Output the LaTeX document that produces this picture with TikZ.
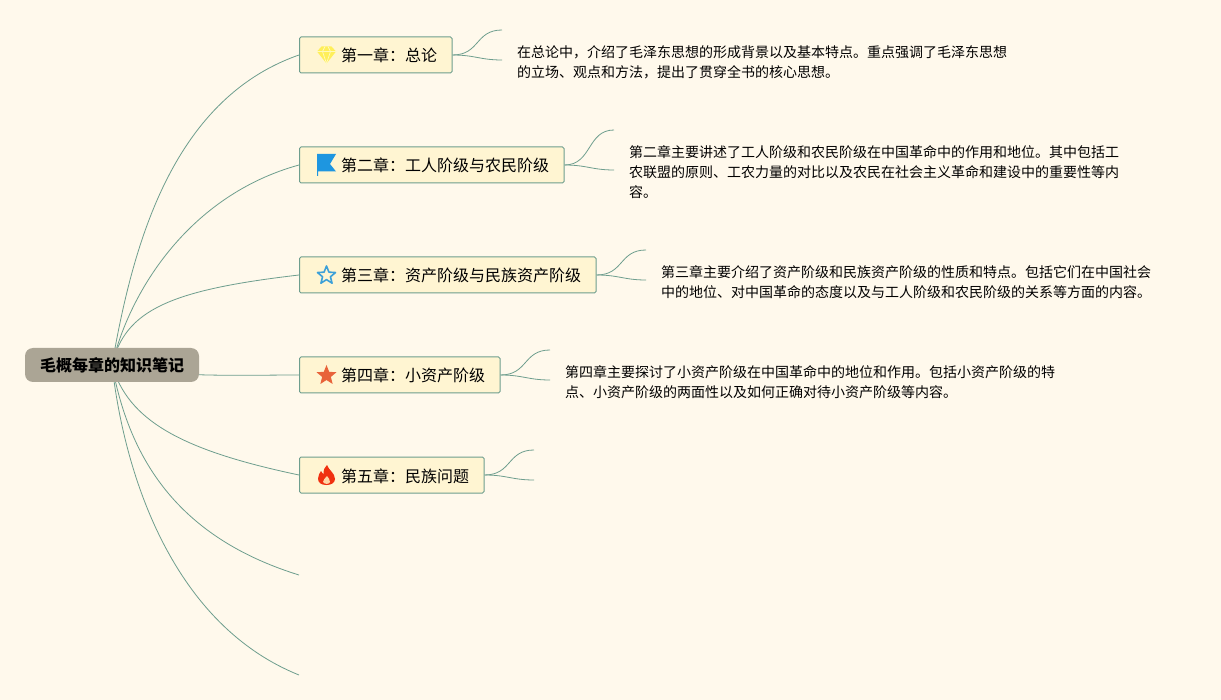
\documentclass[tikz,border=0pt]{standalone}
\usepackage{fontspec}
\setmainfont{Noto Sans CJK SC}
\usetikzlibrary{backgrounds,shapes.geometric}
\definecolor{paper}{HTML}{FFF9EC}
\definecolor{linkgreen}{HTML}{6E9E8E}
\definecolor{boxfill}{HTML}{FFF5D2}
\definecolor{rootfill}{HTML}{ABA595}
\definecolor{flagblue}{HTML}{1E96E0}
\definecolor{flamered}{HTML}{F0300F}
\definecolor{gemyellow}{HTML}{FFEF5A}
\definecolor{starblue}{HTML}{3CA0D8}
\definecolor{starorange}{HTML}{E8633A}
\tikzset{
    gemicon/.pic={
        \fill[gemyellow] (-9.5,-3.5) -- (-5,-8.5) -- (5,-8.5) -- (9.5,-3.5) -- (0,8.5) -- cycle;
        \draw[white!60!gemyellow, line width=0.7pt] (-9.5,-3.5) -- (9.5,-3.5) (-4,-3.5) -- (0,8.5) -- (4,-3.5) (-4,-3.5) -- (-1.5,-8.5) (4,-3.5) -- (1.5,-8.5);
    },
    flagicon/.pic={
        \fill[flagblue] (-9.5,-11) -- (9.5,-11) -- (3.5,-1) -- (9.5,6.5) -- (-8.5,6.5) -- (-8.5,11) -- (-9.5,11) -- cycle;
    },
    flameicon/.pic={
        \fill[flamered] (0.5,-10) .. controls (2,-5) and (8.5,-2) .. (8.5,4) .. controls (8.5,8) and (4.5,10) .. (0,10) .. controls (-5,10) and (-8.5,8) .. (-8.5,3.5) .. controls (-8.5,0) and (-6.5,-2) .. (-5.5,-4) .. controls (-4.5,-2.5) and (-4,-1.5) .. (-3,-1) .. controls (-3,-5) and (-2,-8) .. (0.5,-10) -- cycle;
        \fill[paper!70!orange] (0.5,1) .. controls (1.5,3) and (4,4.5) .. (3.5,7) .. controls (3,9.5) and (-2.5,9.5) .. (-3.5,7) .. controls (-4,5) and (-1,3.5) .. (0.5,1) -- cycle;
    }
}
\begin{document}
\begin{tikzpicture}[
        x=1pt, y=-1pt,
        link/.style={draw=linkgreen, line width=0.8pt},
        chapter/.style={draw=linkgreen, fill=boxfill, line width=1pt, rounded corners=1.5pt, anchor=west, minimum height=36pt, inner xsep=15pt, inner ysep=0pt, text height=15pt, text depth=1pt, font=\fontsize{16}{20}\selectfont},
        mainbox/.style={fill=rootfill, rounded corners=8pt, minimum width=174pt, minimum height=34pt, inner sep=0pt, text height=15pt, text depth=1pt, font=\fontsize{16}{20}\selectfont\bfseries},
        note/.style={anchor=north west, inner sep=0pt, align=left, font=\fontsize{14}{20}\selectfont},
        staricon/.style={star, star points=5, star point ratio=2.3, minimum size=21pt, inner sep=0pt, line join=round}
    ]
        \useasboundingbox (0,0) rectangle (1221,700);

        % Root and the chapter boxes
        \node[mainbox] (root) at (112,365) {毛概每章的知识笔记};
        \node[chapter] (ch1) at (299,55) {\hspace*{26.5pt}第一章：总论};
        \node[chapter] (ch2) at (299,165) {\hspace*{26.5pt}第二章：工人阶级与农民阶级};
        \node[chapter] (ch3) at (299,275) {\hspace*{26.5pt}第三章：资产阶级与民族资产阶级};
        \node[chapter] (ch4) at (299,375) {\hspace*{26.5pt}第四章：小资产阶级};
        \node[chapter] (ch5) at (299,475) {\hspace*{26.5pt}第五章：民族问题};

        % Icons
        \pic at (326.5,55) {gemicon};
        \pic at (326.5,165) {flagicon};
        \node[staricon, draw=starblue, line width=1.6pt, minimum size=19pt] (star3) at (326.5,275.5) {};
        \node[staricon, fill=starorange] (star4) at (326.5,375.5) {};
        \pic at (326.5,475) {flameicon};

        % Notes
        \node[note] (note1) at (517,45) {在总论中，介绍了毛泽东思想的形成背景以及基本特点。重点强调了毛泽东思想\\的立场、观点和方法，提出了贯穿全书的核心思想。};
        \node[note] (note2) at (629,145) {第二章主要讲述了工人阶级和农民阶级在中国革命中的作用和地位。其中包括工\\农联盟的原则、工农力量的对比以及农民在社会主义革命和建设中的重要性等内\\容。};
        \node[note] (note3) at (661,265) {第三章主要介绍了资产阶级和民族资产阶级的性质和特点。包括它们在中国社会\\中的地位、对中国革命的态度以及与工人阶级和农民阶级的关系等方面的内容。};
        \node[note] (note4) at (565,365) {第四章主要探讨了小资产阶级在中国革命中的地位和作用。包括小资产阶级的特\\点、小资产阶级的两面性以及如何正确对待小资产阶级等内容。};

        % Free ends
        \coordinate (ch6) at (299,575);
        \coordinate (ch7) at (299,675);
        \coordinate (a1) at (502,30);
        \coordinate (b1) at (502,60);
        \coordinate (a2) at (614,130);
        \coordinate (b2) at (614,170);
        \coordinate (a3) at (646,250);
        \coordinate (b3) at (646,280);
        \coordinate (a4) at (550,350);
        \coordinate (b4) at (550,380);
        \coordinate (a5) at (534,450);
        \coordinate (b5) at (534,480);

        \begin{scope}[on background layer]
            \fill[paper] (0,0) rectangle (1221,700);
            % Root branches
            \draw[link] (root.center) .. controls (132,250) and (170,100) .. (ch1.west);
            \draw[link] (root.center) .. controls (130,290) and (190,195) .. (ch2.west);
            \draw[link] (root.center) .. controls (125,310) and (170,290) .. (ch3.west);
            \draw[link] (root.center) .. controls (165,378) and (240,375) .. (ch4.west);
            \draw[link] (root.center) .. controls (128,420) and (180,450) .. (ch5.west);
            \draw[link] (root.center) .. controls (128,450) and (170,535) .. (ch6);
            \draw[link] (root.center) .. controls (125,480) and (175,625) .. (ch7);
            % Small forks
            \draw[link] (ch1.east) .. controls (480,55) and (475,30) .. (a1);
            \draw[link] (ch1.east) .. controls (475,55) and (480,60) .. (b1);
            \draw[link] (ch2.east) .. controls (592,165) and (587,130) .. (a2);
            \draw[link] (ch2.east) .. controls (587,165) and (592,170) .. (b2);
            \draw[link] (ch3.east) .. controls (624,275) and (619,250) .. (a3);
            \draw[link] (ch3.east) .. controls (619,275) and (624,280) .. (b3);
            \draw[link] (ch4.east) .. controls (528,375) and (523,350) .. (a4);
            \draw[link] (ch4.east) .. controls (523,375) and (528,380) .. (b4);
            \draw[link] (ch5.east) .. controls (512,475) and (507,450) .. (a5);
            \draw[link] (ch5.east) .. controls (507,475) and (512,480) .. (b5);
        \end{scope}
    \end{tikzpicture}
\end{document}
